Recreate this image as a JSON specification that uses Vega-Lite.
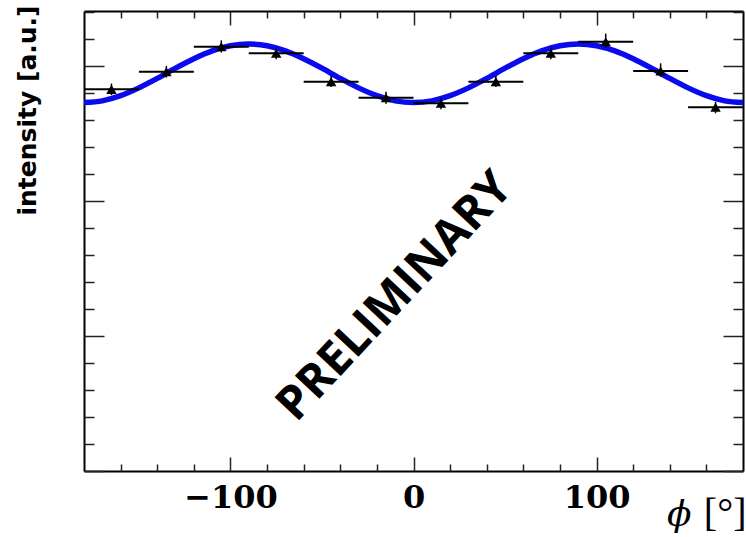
{
  "$schema": "https://vega.github.io/schema/vega-lite/v6.json",
  "width": 659,
  "height": 460,
  "autosize": {"type": "none"},
  "padding": {"left": 84, "top": 11, "right": 3, "bottom": 66},
  "background": "white",
  "config": {
    "view": {"stroke": null},
    "axis": {"grid": false, "domainColor": "black", "domainWidth": 2, "tickColor": "#222222", "tickWidth": 1.5, "labelColor": "black", "titleColor": "black"}
  },
  "datasets": {
    "curve": [
      {"phi": -180, "v": 2.729}, {"phi": -170, "v": 2.742}, {"phi": -160, "v": 2.780}, {"phi": -150, "v": 2.838},
      {"phi": -140, "v": 2.908}, {"phi": -130, "v": 2.984}, {"phi": -120, "v": 3.054}, {"phi": -110, "v": 3.112},
      {"phi": -100, "v": 3.150}, {"phi": -90, "v": 3.163}, {"phi": -80, "v": 3.150}, {"phi": -70, "v": 3.112},
      {"phi": -60, "v": 3.054}, {"phi": -50, "v": 2.984}, {"phi": -40, "v": 2.908}, {"phi": -30, "v": 2.838},
      {"phi": -20, "v": 2.780}, {"phi": -10, "v": 2.742}, {"phi": 0, "v": 2.729}, {"phi": 10, "v": 2.742},
      {"phi": 20, "v": 2.780}, {"phi": 30, "v": 2.838}, {"phi": 40, "v": 2.908}, {"phi": 50, "v": 2.984},
      {"phi": 60, "v": 3.054}, {"phi": 70, "v": 3.112}, {"phi": 80, "v": 3.150}, {"phi": 90, "v": 3.163},
      {"phi": 100, "v": 3.150}, {"phi": 110, "v": 3.112}, {"phi": 120, "v": 3.054}, {"phi": 130, "v": 2.984},
      {"phi": 140, "v": 2.908}, {"phi": 150, "v": 2.838}, {"phi": 160, "v": 2.780}, {"phi": 170, "v": 2.742},
      {"phi": 180, "v": 2.729}
    ],
    "points": [
      {"phi": -165, "lo": -180, "hi": -150, "v": 2.827, "vlo": 2.785, "vhi": 2.870},
      {"phi": -135, "lo": -150, "hi": -120, "v": 2.958, "vlo": 2.915, "vhi": 3.000},
      {"phi": -105, "lo": -120, "hi": -90, "v": 3.143, "vlo": 3.100, "vhi": 3.190},
      {"phi": -75, "lo": -90, "hi": -60, "v": 3.094, "vlo": 3.050, "vhi": 3.135},
      {"phi": -45, "lo": -60, "hi": -30, "v": 2.884, "vlo": 2.845, "vhi": 2.925},
      {"phi": -15, "lo": -30, "hi": 0, "v": 2.765, "vlo": 2.720, "vhi": 2.810},
      {"phi": 15, "lo": 0, "hi": 30, "v": 2.724, "vlo": 2.680, "vhi": 2.765},
      {"phi": 45, "lo": 30, "hi": 60, "v": 2.884, "vlo": 2.845, "vhi": 2.925},
      {"phi": 75, "lo": 60, "hi": 90, "v": 3.094, "vlo": 3.050, "vhi": 3.135},
      {"phi": 105, "lo": 90, "hi": 120, "v": 3.180, "vlo": 3.135, "vhi": 3.240},
      {"phi": 135, "lo": 120, "hi": 150, "v": 2.963, "vlo": 2.920, "vhi": 3.020},
      {"phi": 165, "lo": 150, "hi": 180, "v": 2.694, "vlo": 2.650, "vhi": 2.735}
    ],
    "note": [{"phi": -10, "v": 1.29, "label": "PRELIMINARY"}]
  },
  "layer": [
    {
      "data": {"name": "curve"},
      "mark": {"type": "line", "color": "#0a0aee", "strokeWidth": 5.5, "interpolate": "monotone", "clip": true},
      "encoding": {
        "x": {"field": "phi", "type": "quantitative", "scale": {"domain": [-180, 180], "nice": false, "zero": false},
          "axis": {"orient": "bottom", "values": [-100, 0, 100], "ticks": false, "domain": true,
            "labelFont": "DejaVu Serif", "labelFontWeight": "bold", "labelFontSize": 32, "labelPadding": 11,
            "title": "ϕ", "titleFont": "DejaVu Serif", "titleFontStyle": "italic", "titleFontWeight": "normal", "titleFontSize": 36,
            "titleX": 607, "titleY": 54, "titleAlign": "right", "titleBaseline": "alphabetic"}},
        "y": {"field": "v", "type": "quantitative", "scale": {"domain": [0, 3.4074], "nice": false, "zero": false},
          "axis": {"orient": "left", "ticks": false, "labels": false, "domain": true,
            "title": "intensity [a.u.]", "titleFont": "DejaVu Sans", "titleFontWeight": "bold", "titleFontSize": 25,
            "titleAngle": -90, "titleX": -57, "titleY": -6, "titleAlign": "right", "titleBaseline": "middle"}}
      }
    },
    {
      "data": {"name": "points"},
      "mark": {"type": "rule", "color": "black", "strokeWidth": 2},
      "encoding": {
        "x": {"field": "lo", "type": "quantitative", "scale": {"domain": [-180, 180], "nice": false, "zero": false},
          "axis": {"orient": "bottom", "values": [-100, 0, 100], "labels": false, "domain": false, "tickSize": -14,
            "title": "[°]", "titleFont": "Liberation Serif", "titleFontWeight": "normal", "titleFontSize": 40,
            "titleX": 662, "titleY": 54, "titleAlign": "right", "titleBaseline": "alphabetic"}},
        "x2": {"field": "hi"},
        "y": {"field": "v", "type": "quantitative", "scale": {"domain": [0, 3.4074], "nice": false, "zero": false},
          "axis": {"orient": "left", "values": [0, 1, 2, 3], "labels": false, "domain": false, "tickSize": -20, "title": null}}
      }
    },
    {
      "data": {"name": "points"},
      "mark": {"type": "rule", "color": "black", "strokeWidth": 1.5},
      "encoding": {
        "x": {"field": "phi", "type": "quantitative", "scale": {"domain": [-180, 180], "nice": false, "zero": false},
          "axis": {"orient": "bottom", "values": [-160, -140, -120, -80, -60, -40, -20, 20, 40, 60, 80, 120, 140, 160], "labels": false, "domain": false, "tickSize": -7, "title": null}},
        "y": {"field": "vlo", "type": "quantitative", "scale": {"domain": [0, 3.4074], "nice": false, "zero": false},
          "axis": {"orient": "left", "values": [0.2, 0.4, 0.6, 0.8, 1.2, 1.4, 1.6, 1.8, 2.2, 2.4, 2.6, 2.8, 3.2, 3.4], "labels": false, "domain": false, "tickSize": -10, "title": null}},
        "y2": {"field": "vhi"}
      }
    },
    {
      "data": {"name": "points"},
      "mark": {"type": "point", "shape": "triangle-up", "filled": true, "color": "black", "size": 110, "opacity": 1},
      "encoding": {
        "x": {"field": "phi", "type": "quantitative", "scale": {"domain": [-180, 180], "nice": false, "zero": false},
          "axis": {"orient": "top", "values": [-100, 0, 100], "labels": false, "domain": true, "tickSize": -14, "title": null}},
        "y": {"field": "v", "type": "quantitative", "scale": {"domain": [0, 3.4074], "nice": false, "zero": false},
          "axis": {"orient": "right", "values": [0, 1, 2, 3], "labels": false, "domain": true, "tickSize": -20, "title": null}}
      }
    },
    {
      "data": {"name": "note"},
      "mark": {"type": "text", "font": "Open Sans", "fontWeight": "bold", "fontSize": 47, "angle": -47, "color": "black", "align": "center", "baseline": "middle"},
      "encoding": {
        "text": {"field": "label"},
        "x": {"field": "phi", "type": "quantitative", "scale": {"domain": [-180, 180], "nice": false, "zero": false},
          "axis": {"orient": "top", "values": [-160, -140, -120, -80, -60, -40, -20, 20, 40, 60, 80, 120, 140, 160], "labels": false, "domain": false, "tickSize": -7, "title": null}},
        "y": {"field": "v", "type": "quantitative", "scale": {"domain": [0, 3.4074], "nice": false, "zero": false},
          "axis": {"orient": "right", "values": [0.2, 0.4, 0.6, 0.8, 1.2, 1.4, 1.6, 1.8, 2.2, 2.4, 2.6, 2.8, 3.2, 3.4], "labels": false, "domain": false, "tickSize": -10, "title": null}}
      }
    }
  ],
  "resolve": {"axis": {"x": "independent", "y": "independent"}}
}
